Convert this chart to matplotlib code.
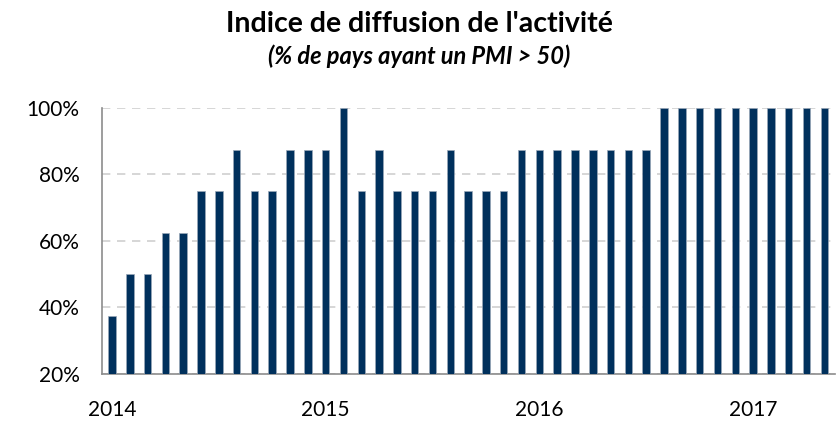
import matplotlib.pyplot as plt
import numpy as np

# indice de diffusion mensuel, janv. 2014 -> mai 2017
values = [37.5, 50, 50, 62.5, 62.5, 75, 75, 87.5, 75, 75, 87.5, 87.5,
          87.5, 100, 75, 87.5, 75, 75, 75, 87.5, 75, 75, 75, 87.5,
          87.5, 87.5, 87.5, 87.5, 87.5, 87.5, 87.5, 100, 100, 100, 100, 100,
          100, 100, 100, 100, 100]
year_labels = ['2014', '2015', '2016', '2017']
year_pos = [0, 12, 24, 36]
y_ticks = [20, 40, 60, 80, 100]

plt.rcParams['font.family'] = ['Lato', 'DejaVu Sans']

fig = plt.figure(figsize=(8.38, 4.25), dpi=100)
ax = fig.add_axes([0.1217, 0.12, 0.8747, 0.626])

x = np.arange(len(values))
ax.bar(x, values, width=0.42, color='#00305C', edgecolor='#9aa8b8',
       linewidth=0.5, zorder=3)

ax.set_ylim(20, 100)
ax.set_xlim(-0.56, len(values) - 0.4)
ax.set_yticks(y_ticks)
ax.set_yticklabels([f'{v}%' for v in y_ticks])
ax.set_xticks(year_pos)
ax.set_xticklabels(year_labels)
ax.tick_params(length=0, labelsize=15)
ax.tick_params(axis='y', pad=16)
ax.tick_params(axis='x', pad=19)

ax.grid(axis='y', color='#d0d0d0', linestyle=(0, (5, 4)), linewidth=1.2, zorder=0)
for s in ['top', 'right']:
    ax.spines[s].set_visible(False)
ax.spines['left'].set_color('#8c8c8c')
ax.spines['bottom'].set_color('#8c8c8c')
ax.spines['left'].set_linewidth(1.2)
ax.spines['bottom'].set_linewidth(1.2)

fig.text(0.5, 0.925, "Indice de diffusion de l'activité", ha='center', va='baseline',
         fontsize=20.5, fontweight='bold')
fig.text(0.5, 0.849, "(% de pays ayant un PMI > 50)", ha='center', va='baseline',
         fontsize=17, fontweight='bold', fontstyle='italic')

fig.savefig('out.png', dpi=100)
